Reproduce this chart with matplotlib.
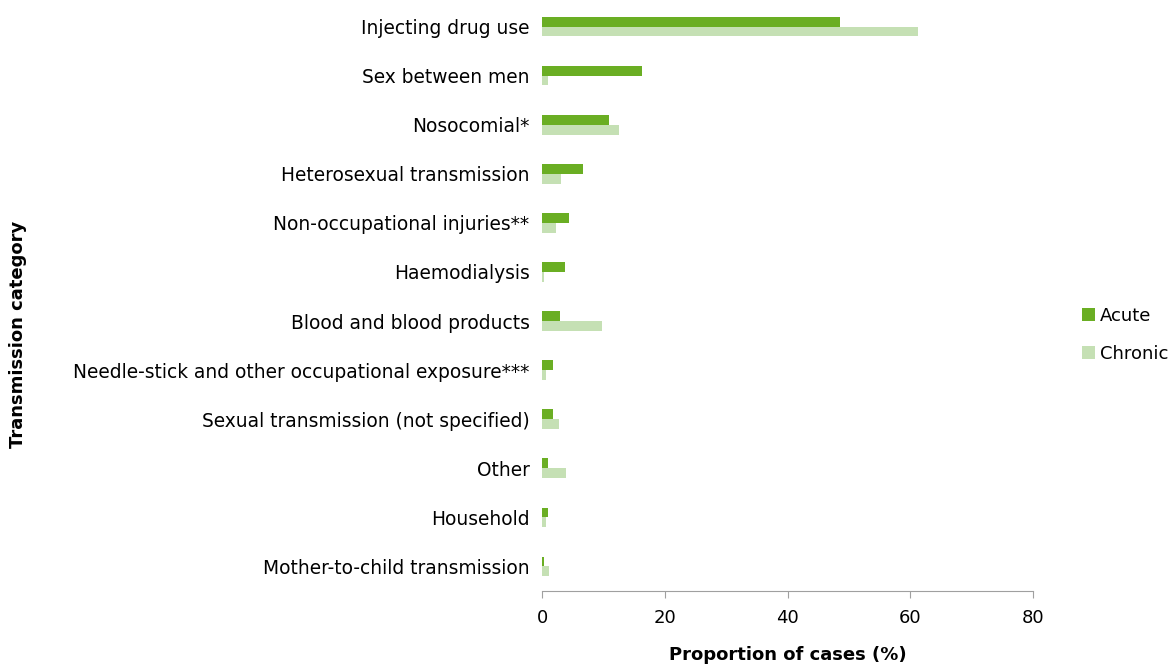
import numpy as np
import matplotlib.pyplot as plt

categories = [
    'Injecting drug use',
    'Sex between men',
    'Nosocomial*',
    'Heterosexual transmission',
    'Non-occupational injuries**',
    'Haemodialysis',
    'Blood and blood products',
    'Needle-stick and other occupational exposure***',
    'Sexual transmission (not specified)',
    'Other',
    'Household',
    'Mother-to-child transmission',
]
acute = [48.6, 16.3, 10.9, 6.7, 4.4, 3.7, 3.0, 1.8, 1.8, 1.0, 0.9, 0.4]
chronic = [61.2, 1.0, 12.6, 3.1, 2.3, 0.4, 9.8, 0.6, 2.8, 3.9, 0.7, 1.1]

plt.rcParams['font.family'] = 'DejaVu Sans'
fs = 13

fig = plt.figure(figsize=(11.72, 6.69), dpi=100)
ax = fig.add_axes([542 / 1172, 1 - 591 / 669, (1033 - 542) / 1172, 589 / 669])

y = np.arange(len(categories))
h = 0.2
ax.barh(y - h / 2, acute, height=h, color='#6AAE23', label='Acute')
ax.barh(y + h / 2, chronic, height=h, color='#C5E0B4', label='Chronic')

ax.set_yticks(y)
ax.set_yticklabels(categories, fontsize=13.4)
ax.set_ylim(len(categories) - 0.5, -0.5)
ax.set_xlim(0, 80)
ax.set_xticks([0, 20, 40, 60, 80])
ax.tick_params(axis='x', labelsize=fs, length=5, color='#A0A0A0', pad=8)
ax.tick_params(axis='y', length=0, pad=9)

for s in ['top', 'right', 'left']:
    ax.spines[s].set_visible(False)
ax.spines['bottom'].set_color('#A0A0A0')

ax.set_xlabel('Proportion of cases (%)', fontsize=fs, fontweight='bold', labelpad=14)
fig.text(18 / 1172, 0.5, 'Transmission category', rotation=90, fontsize=fs,
         fontweight='bold', ha='center', va='center')

fig.legend(loc='center left', bbox_to_anchor=(1066 / 1172, 1 - 335 / 669),
           frameon=False, fontsize=fs, handlelength=0.7, handleheight=0.7,
           handletextpad=0.3, labelspacing=1.1)

fig.savefig('out.png', dpi=100)
